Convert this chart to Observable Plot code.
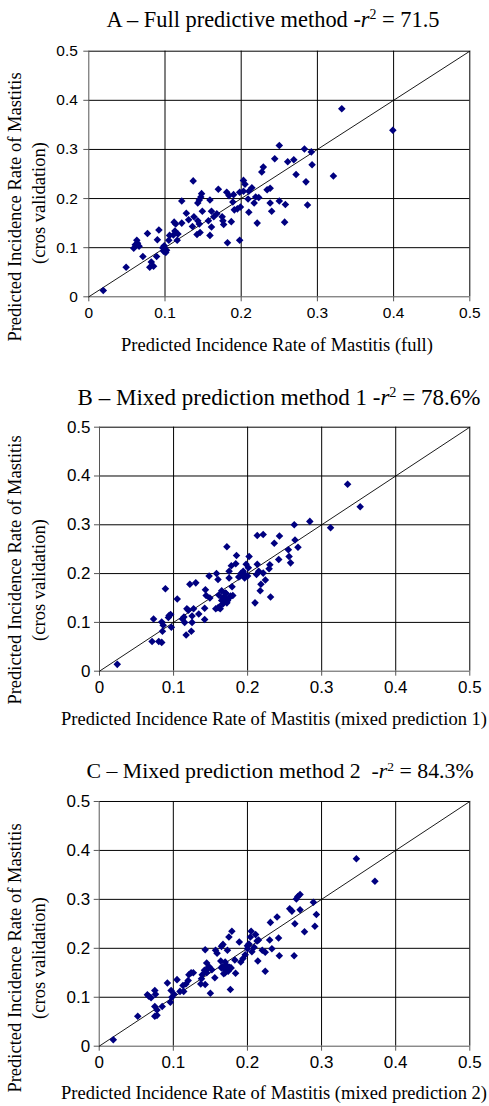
<!DOCTYPE html>
<html><head><meta charset="utf-8">
<script src="https://cdn.jsdelivr.net/npm/d3@7"></script>
<script src="https://cdn.jsdelivr.net/npm/@observablehq/plot@0.6"></script>
<style>
body{margin:0;background:#fff;}
#root{position:relative;width:489px;height:1106px;overflow:hidden;background:#fff;font-family:"Liberation Serif","Times New Roman",serif;color:#000;}
.abs{position:absolute;white-space:nowrap;line-height:1;}
.xlab{font-size:18.5px;}
.ylab{font-size:18.5px;}
.panel{position:absolute;left:0;}
sup{font-size:0.62em;vertical-align:0.55em;line-height:0;}
</style>
</head><body><div id="root"></div>
<script>
const tickValues = [0, 0.1, 0.2, 0.3, 0.4, 0.5];
const tickLabels = ["0", "0.1", "0.2", "0.3", "0.4", "0.5"];
const diagonal = [0, 0.5];
const yLabelLine1 = "Predicted Incidence Rate of Mastitis";
const yLabelLine2 = "(cros validation)";

// Panel A – full predictive method
const fullX = [
  0.019,0.049,0.059,0.063,0.064,0.066,0.061,0.071,0.077,0.080,
  0.082,0.085,0.089,0.090,0.092,0.097,0.098,0.099,0.101,0.102,
  0.105,0.106,0.111,0.112,0.113,0.114,0.116,0.117,0.122,0.122,
  0.128,0.131,0.136,0.137,0.138,0.142,0.143,0.143,0.145,0.146,
  0.147,0.148,0.149,0.145,0.157,0.159,0.159,0.161,0.161,0.164,
  0.168,0.170,0.175,0.176,0.177,0.181,0.182,0.184,0.187,0.189,
  0.190,0.191,0.195,0.198,0.198,0.199,0.203,0.203,0.205,0.209,
  0.210,0.210,0.214,0.217,0.219,0.221,0.223,0.227,0.229,0.234,
  0.238,0.238,0.240,0.244,0.250,0.250,0.257,0.258,0.261,0.269,
  0.272,0.283,0.285,0.287,0.292,0.293,0.321,0.332,0.399
];
const fullCV = [
  0.013,0.060,0.099,0.115,0.109,0.103,0.106,0.082,0.129,0.060,
  0.071,0.062,0.082,0.116,0.136,0.100,0.093,0.104,0.090,0.095,
  0.115,0.125,0.126,0.152,0.134,0.148,0.115,0.128,0.150,0.195,
  0.170,0.157,0.143,0.236,0.163,0.127,0.191,0.155,0.148,0.131,
  0.203,0.210,0.174,0.197,0.155,0.197,0.125,0.174,0.142,0.163,
  0.169,0.219,0.163,0.155,0.147,0.213,0.110,0.206,0.153,0.193,
  0.208,0.177,0.179,0.115,0.213,0.183,0.215,0.237,0.229,0.199,
  0.172,0.215,0.222,0.191,0.203,0.150,0.202,0.254,0.264,0.218,
  0.221,0.191,0.174,0.281,0.308,0.195,0.152,0.188,0.275,0.279,
  0.249,0.301,0.234,0.187,0.295,0.269,0.246,0.383,0.339
];

// Panel B – mixed prediction method 1
const mixed1X = [
  0.024,0.071,0.073,0.080,0.084,0.084,0.085,0.086,0.089,0.093,
  0.094,0.096,0.097,0.105,0.112,0.114,0.115,0.117,0.118,0.122,
  0.124,0.125,0.125,0.127,0.130,0.134,0.142,0.142,0.143,0.144,
  0.148,0.149,0.157,0.158,0.160,0.161,0.162,0.163,0.165,0.166,
  0.167,0.169,0.171,0.172,0.173,0.175,0.175,0.177,0.178,0.179,
  0.184,0.185,0.188,0.191,0.194,0.196,0.198,0.200,0.201,0.202,
  0.210,0.212,0.213,0.213,0.215,0.217,0.218,0.221,0.221,0.224,
  0.229,0.230,0.231,0.236,0.242,0.243,0.255,0.256,0.258,0.263,
  0.264,0.268,0.284,0.312,0.335,0.352,0.165,0.170,0.168,0.175,
  0.172,0.180,0.160,0.195,0.190,0.120
];
const mixed1CV = [
  0.014,0.061,0.107,0.061,0.059,0.101,0.082,0.094,0.169,0.110,
  0.114,0.116,0.090,0.148,0.107,0.111,0.100,0.074,0.128,0.178,
  0.082,0.113,0.100,0.128,0.181,0.117,0.106,0.129,0.167,0.155,
  0.195,0.150,0.128,0.200,0.188,0.156,0.132,0.128,0.165,0.150,
  0.138,0.145,0.159,0.255,0.145,0.191,0.205,0.154,0.216,0.173,
  0.220,0.237,0.193,0.200,0.205,0.191,0.219,0.195,0.212,0.235,
  0.140,0.198,0.219,0.278,0.205,0.165,0.178,0.280,0.201,0.187,
  0.210,0.218,0.152,0.262,0.229,0.277,0.249,0.235,0.222,0.300,
  0.269,0.254,0.307,0.294,0.383,0.337,0.145,0.160,0.152,0.150,
  0.140,0.155,0.130,0.200,0.195,0.125
];

// Panel C – mixed prediction method 2
const mixed2X = [
  0.019,0.052,0.065,0.067,0.070,0.075,0.076,0.075,0.075,0.078,
  0.078,0.085,0.092,0.096,0.097,0.098,0.101,0.105,0.109,0.113,
  0.114,0.117,0.120,0.121,0.124,0.127,0.137,0.138,0.139,0.143,
  0.143,0.142,0.145,0.146,0.148,0.150,0.152,0.156,0.157,0.159,
  0.164,0.165,0.166,0.167,0.168,0.169,0.170,0.171,0.173,0.174,
  0.175,0.176,0.177,0.179,0.183,0.184,0.189,0.191,0.194,0.197,
  0.200,0.202,0.204,0.205,0.206,0.209,0.211,0.213,0.214,0.215,
  0.220,0.224,0.224,0.230,0.231,0.233,0.240,0.242,0.243,0.257,
  0.260,0.263,0.264,0.266,0.268,0.271,0.271,0.277,0.289,0.291,
  0.293,0.347,0.372,0.165,0.170,0.172,0.178,0.145,0.200
];
const mixed2CV = [
  0.013,0.061,0.105,0.102,0.099,0.114,0.106,0.081,0.061,0.063,
  0.074,0.081,0.129,0.090,0.114,0.100,0.106,0.136,0.112,0.124,
  0.112,0.127,0.134,0.146,0.150,0.150,0.127,0.138,0.146,0.197,
  0.126,0.155,0.170,0.158,0.163,0.108,0.156,0.140,0.196,0.190,
  0.174,0.204,0.163,0.208,0.148,0.158,0.172,0.165,0.196,0.153,
  0.223,0.161,0.116,0.235,0.176,0.149,0.213,0.172,0.179,0.187,
  0.199,0.209,0.223,0.235,0.193,0.202,0.228,0.215,0.174,0.217,
  0.196,0.153,0.192,0.217,0.253,0.199,0.264,0.221,0.185,0.281,
  0.276,0.185,0.250,0.301,0.306,0.310,0.279,0.234,0.294,0.245,
  0.269,0.383,0.337,0.160,0.150,0.165,0.160,0.150,0.205
];

const root = document.getElementById("root");

function addText(html, cls, cx, cy, rotate, size) {
  const d = document.createElement("div");
  d.className = "abs " + cls;
  d.innerHTML = html;
  d.style.left = cx + "px";
  d.style.top = cy + "px";
  if (size) d.style.fontSize = size + "px";
  d.style.transform = "translate(-50%,-50%)" + (rotate ? " rotate(-90deg)" : "");
  root.appendChild(d);
}

function panel(cfg) {
  const data = cfg.xs.map((x, i) => ({x, y: cfg.ys[i]}));
  const fmt = d => tickLabels[tickValues.indexOf(d)];
  const svg = Plot.plot({
    width: 489,
    height: cfg.height,
    marginTop: cfg.mt, marginBottom: cfg.mb, marginLeft: cfg.ml, marginRight: cfg.mr,
    style: {fontFamily: '"Liberation Sans", Arial, sans-serif', fontSize: cfg.tickFont + "px", color: "#000", background: "transparent", overflow: "visible"},
    x: {domain: [0, 0.5], label: null},
    y: {domain: [0, 0.5], label: null},
    marks: [
      Plot.gridX(tickValues.slice(1), {stroke: "#000", strokeOpacity: 1, strokeWidth: 1}),
      Plot.gridY(tickValues.slice(1), {stroke: "#000", strokeOpacity: 1, strokeWidth: 1}),
      Plot.ruleX([0], {stroke: "#555"}),
      Plot.ruleY([0], {stroke: "#555"}),
      Plot.axisX({ticks: tickValues, tickFormat: fmt, tickSize: 5, tickPadding: 5, label: null, stroke: "#555"}),
      Plot.axisY({ticks: tickValues, tickFormat: fmt, tickSize: 5, tickPadding: cfg.yPad, label: null, stroke: "#555"}),
      Plot.line(diagonal, {x: d => d, y: d => d, stroke: "#000", strokeWidth: 0.9}),
      Plot.dot(data, {x: "x", y: "y", symbol: "diamond2", r: 3.4, fill: "#000080", stroke: "none"})
    ]
  });
  const wrap = document.createElement("div");
  wrap.className = "panel";
  wrap.style.top = cfg.top + "px";
  wrap.appendChild(svg);
  root.appendChild(wrap);
  addText(cfg.title, "title", cfg.titleX, cfg.titleY, false, cfg.titleSize);
  addText(cfg.xLabel, "xlab", cfg.xLabX, cfg.xLabY);
  addText(yLabelLine1, "ylab", 15, cfg.yLab1Y, true);
  addText(yLabelLine2, "ylab", 39, cfg.yLab2Y, true);
}

panel({
  top: 30, height: 296.3, mt: 20.7, mb: 30, ml: 88.3, mr: 19.7, tickFont: 15.5, yPad: 6,
  xs: fullX, ys: fullCV,
  title: "A – Full predictive method -<i>r</i><sup>2</sup> = 71.5", titleX: 273, titleY: 20, titleSize: 22.4,
  xLabel: "Predicted Incidence Rate of Mastitis (full)", xLabX: 277, xLabY: 345,
  yLab1Y: 207, yLab2Y: 203
});
panel({
  top: 405, height: 295.7, mt: 21.7, mb: 30, ml: 99, mr: 19.7, tickFont: 17, yPad: 4,
  xs: mixed1X, ys: mixed1CV,
  title: "B – Mixed prediction method 1 -<i>r</i><sup>2</sup> = 78.6%", titleX: 279, titleY: 397, titleSize: 23,
  xLabel: "Predicted Incidence Rate of Mastitis (mixed prediction 1)", xLabX: 274, xLabY: 719,
  yLab1Y: 570, yLab2Y: 580
});
panel({
  top: 780, height: 295.7, mt: 21, mb: 30, ml: 98.7, mr: 19.7, tickFont: 17, yPad: 4,
  xs: mixed2X, ys: mixed2CV,
  title: "C – Mixed prediction method 2&nbsp; -<i>r</i><sup>2</sup> = 84.3%", titleX: 280, titleY: 772, titleSize: 21.8,
  xLabel: "Predicted Incidence Rate of Mastitis (mixed prediction 2)", xLabX: 274, xLabY: 1093,
  yLab1Y: 958, yLab2Y: 958
});
</script>
</body></html>
